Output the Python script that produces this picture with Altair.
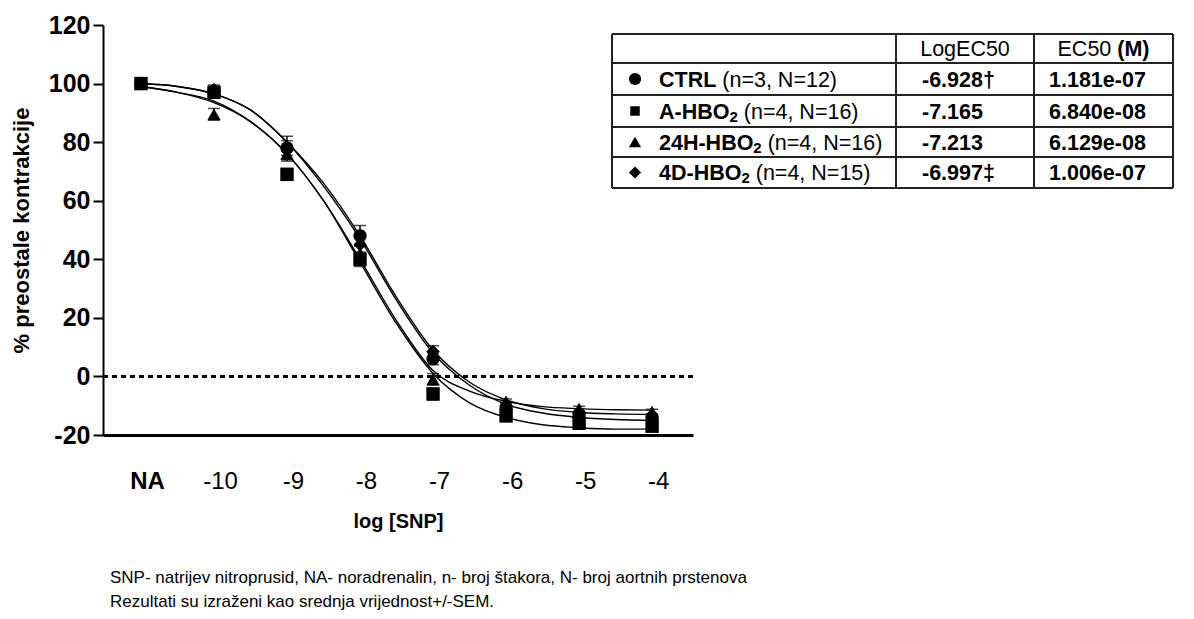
import altair as alt
import pandas as pd

# ---------------- data ----------------
conc = [-11, -10, -9, -8, -7, -6, -5, -4]          # -11 is the "NA" position
groups = ["CTRL", "A-HBO2", "24H-HBO2", "4D-HBO2"]
shapes = ["circle", "square", "triangle-up", "diamond"]

mean_ctrl = [100, 97, 78, 48, 6, -11, -13, -14]
mean_a = [100, 97, 69, 40, -6, -13.5, -16, -17]
mean_24h = [100, 89.5, 76, 42, -1, -8.5, -11, -12]
mean_4d = [100, 98, 78, 45, 8.5, -10, -14, -15]

sem_ctrl = [0.5, 1.5, 2.5, 3.5, 2, 1, 1, 1]
sem_a = [0.5, 1.5, 2, 2.5, 2, 1, 1, 1]
sem_24h = [0.5, 2, 2.5, 2.5, 2, 0.8, 0.8, 0.8]
sem_4d = [0.5, 1.5, 4, 3, 2, 1, 1, 1]

# fitted curves
curve_x = [-11, -10.5, -10, -9.5, -9, -8.5, -8, -7.5, -7, -6.5, -6, -5.5, -5, -4.5, -4]
curve_ctrl = [100, 99, 96.5, 91, 80, 66, 48, 27, 9, -2, -8, -11, -12.3, -12.8, -13]
curve_a = [99, 97, 94, 87, 76, 60, 39, 18, 1, -9, -14, -16.5, -17.5, -18, -18]
curve_24h = [99, 97, 93.5, 87, 76, 60, 40, 19, 2, -5, -8.5, -10.3, -11, -11.4, -11.5]
curve_4d = [100, 99, 96.5, 91, 80, 65, 47, 26, 8, -3, -9.5, -12.5, -14, -14.7, -15]

# table
tbl_main = ["CTRL", "A-HBO", "24H-HBO", "4D-HBO"]
tbl_sub = ["", "2", "2", "2"]
tbl_detail = ["(n=3, N=12)", "(n=4, N=16)", "(n=4, N=16)", "(n=4, N=15)"]
tbl_logec50 = ["-6.928\u2020", "-7.165", "-7.213", "-6.997\u2021"]
tbl_ec50 = ["1.181e-07", "6.840e-08", "6.129e-08", "1.006e-07"]
caption = ["SNP- natrijev nitroprusid, NA- noradrenalin, n- broj štakora, N- broj aortnih prstenova",
           "Rezultati su izraženi kao srednja vrijednost+/-SEM."]

# ---------------- build tables ----------------
means = [mean_ctrl, mean_a, mean_24h, mean_4d]
sems = [sem_ctrl, sem_a, sem_24h, sem_4d]
curves = [curve_ctrl, curve_a, curve_24h, curve_4d]

pts = pd.DataFrame([
    {"x": c, "y": m, "lo": m - s, "hi": m + s, "g": g, "shape": sh}
    for g, sh, ms, ss in zip(groups, shapes, means, sems)
    for c, m, s in zip(conc, ms, ss)
])
crv = pd.DataFrame([
    {"x": cx, "y": cy, "g": g}
    for g, cys in zip(groups, curves)
    for cx, cy in zip(curve_x, cys)
])

FONT = "Liberation Sans"
XD = [-11.52, -3.44]
YD = [-20, 120]


def X(field="x"):
    return alt.X(f"{field}:Q", scale=alt.Scale(domain=XD, nice=False, zero=False),
                 axis=alt.Axis(values=conc, title="log [SNP]",
                               labelExpr="datum.value == -11 ? 'NA' : '' + datum.value",
                               labelFontWeight={"condition": {"test": "datum.value == -11", "value": "bold"},
                                                "value": "normal"},
                               labelFontSize=24, labelFont=FONT, labelColor="black",
                               labelPadding=34, labelOffset=6, ticks=False, domainWidth=3,
                               domainColor="black",
                               grid=False, titleFont=FONT, titleFontSize=20, titleFontWeight="bold",
                               titleColor="black", titlePadding=18))


def Y(field="y"):
    return alt.Y(f"{field}:Q", scale=alt.Scale(domain=YD, nice=False, zero=False),
                 axis=alt.Axis(values=[-20, 0, 20, 40, 60, 80, 100, 120],
                               labelExpr="'' + datum.value",
                               title="% preostale kontrakcije",
                               labelFontSize=25, labelFontWeight="bold", labelFont=FONT,
                               labelColor="black", labelPadding=3, tickSize=10, tickWidth=2,
                               tickColor="black", domainWidth=2, domainColor="black", grid=False,
                               titleFont=FONT, titleFontSize=22, titleFontWeight="bold",
                               titleColor="black", titlePadding=15))


base_pts = alt.Chart(pts)

zero_line = alt.Chart(pd.DataFrame({"x": [XD[0], XD[1]], "y": [0, 0]})).mark_line(
    color="black", strokeWidth=3, strokeDash=[5, 4]).encode(x=X(), y=Y())

lines = alt.Chart(crv).mark_line(color="black", strokeWidth=1.4, interpolate="monotone").encode(
    x=X(), y=Y(), detail="g:N")

err = base_pts.mark_rule(color="black", strokeWidth=1.5).encode(x=X(), y=Y("lo"), y2="hi:Q")
cap_hi = base_pts.mark_tick(color="black", thickness=1.5, size=12, orient="horizontal").encode(
    x=X(), y=Y("hi"))
cap_lo = base_pts.mark_tick(color="black", thickness=1.5, size=12, orient="horizontal").encode(
    x=X(), y=Y("lo"))

markers = base_pts.mark_point(filled=True, color="black", opacity=1, size=180).encode(
    x=X(), y=Y(),
    shape=alt.Shape("shape:N", scale=None, legend=None))

main = alt.layer(zero_line, lines, err, cap_hi, cap_lo, markers)

# ---------------- table (pixel layout relative to the plot origin) ----------------
BW = {'C': 722, 'T': 611, 'R': 722, 'L': 611, 'A': 722, '-': 333, 'H': 722, 'B': 722,
      'O': 778, '2': 556, '4': 556, 'D': 722, ' ': 278}


def bwidth(s, fs):
    return sum(BW.get(ch, 600) for ch in s) * fs / 1000.0


TFS = 21.5
SUBFS = 15
t_left, t_c1, t_c2, t_right = 509, 793, 931, 1070
row_lines = [9, 38, 70, 102, 132, 163]
row_mid = [(a + b) / 2 for a, b in zip(row_lines[:-1], row_lines[1:])]

hl = pd.DataFrame({"x1": [t_left] * len(row_lines), "x2": [t_right] * len(row_lines),
                   "y1": row_lines, "y2": row_lines})
vl = pd.DataFrame({"x1": [t_left, t_c1, t_c2, t_right], "x2": [t_left, t_c1, t_c2, t_right],
                   "y1": [row_lines[0]] * 4, "y2": [row_lines[-1]] * 4})
grid_df = pd.concat([hl, vl])

PX = lambda f: alt.X(f"{f}:Q", scale=None, axis=None)
PY = lambda f: alt.Y(f"{f}:Q", scale=None, axis=None)

grid = alt.Chart(grid_df).mark_rule(color="#222", strokeWidth=2).encode(
    x=PX("x1"), x2="x2:Q", y=PY("y1"), y2="y2:Q")

name_x = 556
rows = []
for i in range(4):
    yb = row_mid[i + 1] + 7.5
    w_main = bwidth(tbl_main[i], TFS)
    w_sub = bwidth(tbl_sub[i], SUBFS) if tbl_sub[i] else 0
    rows.append({"sx": 532, "sy": row_mid[i + 1], "shape": shapes[i],
                 "ssize": 90 if shapes[i] == "square" else 150,
                 "mx": name_x, "my": yb, "main": tbl_main[i],
                 "subx": name_x + w_main, "suby": yb + 3, "sub": tbl_sub[i],
                 "dx": name_x + w_main + w_sub + 0.278 * TFS, "detail": tbl_detail[i],
                 "lx": 819, "log": tbl_logec50[i], "ex": 946, "ec": tbl_ec50[i]})
rows_df = pd.DataFrame(rows)
rb = alt.Chart(rows_df)

sym = rb.mark_point(filled=True, color="black", opacity=1).encode(
    x=PX("sx"), y=PY("sy"), shape=alt.Shape("shape:N", scale=None, legend=None),
    size=alt.Size("ssize:Q", scale=None, legend=None))
t_main = rb.mark_text(font=FONT, fontSize=TFS, fontWeight="bold", align="left",
                      baseline="alphabetic", color="black").encode(
    x=PX("mx"), y=PY("my"), text="main:N")
t_sub = rb.mark_text(font=FONT, fontSize=SUBFS, fontWeight="bold", align="left",
                     baseline="alphabetic", color="black").encode(
    x=PX("subx"), y=PY("suby"), text="sub:N")
t_det = rb.mark_text(font=FONT, fontSize=TFS, align="left", baseline="alphabetic",
                     color="black").encode(x=PX("dx"), y=PY("my"), text="detail:N")
t_log = rb.mark_text(font=FONT, fontSize=TFS, fontWeight="bold", align="left",
                     baseline="alphabetic", color="black").encode(
    x=PX("lx"), y=PY("my"), text="log:N")
t_ec = rb.mark_text(font=FONT, fontSize=TFS, fontWeight="bold", align="left",
                    baseline="alphabetic", color="black").encode(
    x=PX("ex"), y=PY("my"), text="ec:N")

hdr_y = row_mid[0] + 7.5
ec_w = 2.501 * TFS
ec_total = ec_w + 0.278 * TFS + 1.499 * TFS
ec_start = (t_c2 + t_right) / 2 - ec_total / 2
hdr = pd.DataFrame({"x": [(t_c1 + t_c2) / 2, ec_start, ec_start + ec_w + 0.278 * TFS],
                    "y": [hdr_y] * 3, "t": ["LogEC50", "EC50", "(M)"]})
t_hdr1 = alt.Chart(hdr.iloc[[0]]).mark_text(font=FONT, fontSize=TFS, align="center",
                                            baseline="alphabetic", color="black").encode(
    x=PX("x"), y=PY("y"), text="t:N")
t_hdr2 = alt.Chart(hdr.iloc[[1]]).mark_text(font=FONT, fontSize=TFS, align="left",
                                            baseline="alphabetic", color="black").encode(
    x=PX("x"), y=PY("y"), text="t:N")
t_hdr3 = alt.Chart(hdr.iloc[[2]]).mark_text(font=FONT, fontSize=TFS, fontWeight="bold", align="left",
                                            baseline="alphabetic", color="black").encode(
    x=PX("x"), y=PY("y"), text="t:N")

cap_df = pd.DataFrame({"x": [7, 7], "y": [553, 577], "t": caption})
cap = alt.Chart(cap_df).mark_text(font="Liberation Sans Narrow, Arial Narrow, Liberation Sans",
                                  fontSize=17, align="left", baseline="middle", color="black").encode(
    x=PX("x"), y=PY("y"), text="t:N")

table = alt.layer(grid, sym, t_main, t_sub, t_det, t_log, t_ec, t_hdr1, t_hdr2, t_hdr3, cap)

chart = alt.layer(main, table).resolve_scale(
    x="independent", y="independent", shape="independent", size="independent"
).properties(
    width=590, height=410,
    autosize=alt.AutoSizeParams(type="none"),
    padding={"left": 95, "top": 17, "right": 493, "bottom": 180},
    background="white",
).configure_view(stroke=None)

chart.save("out.html", embed_options={"renderer": "svg", "actions": False})
